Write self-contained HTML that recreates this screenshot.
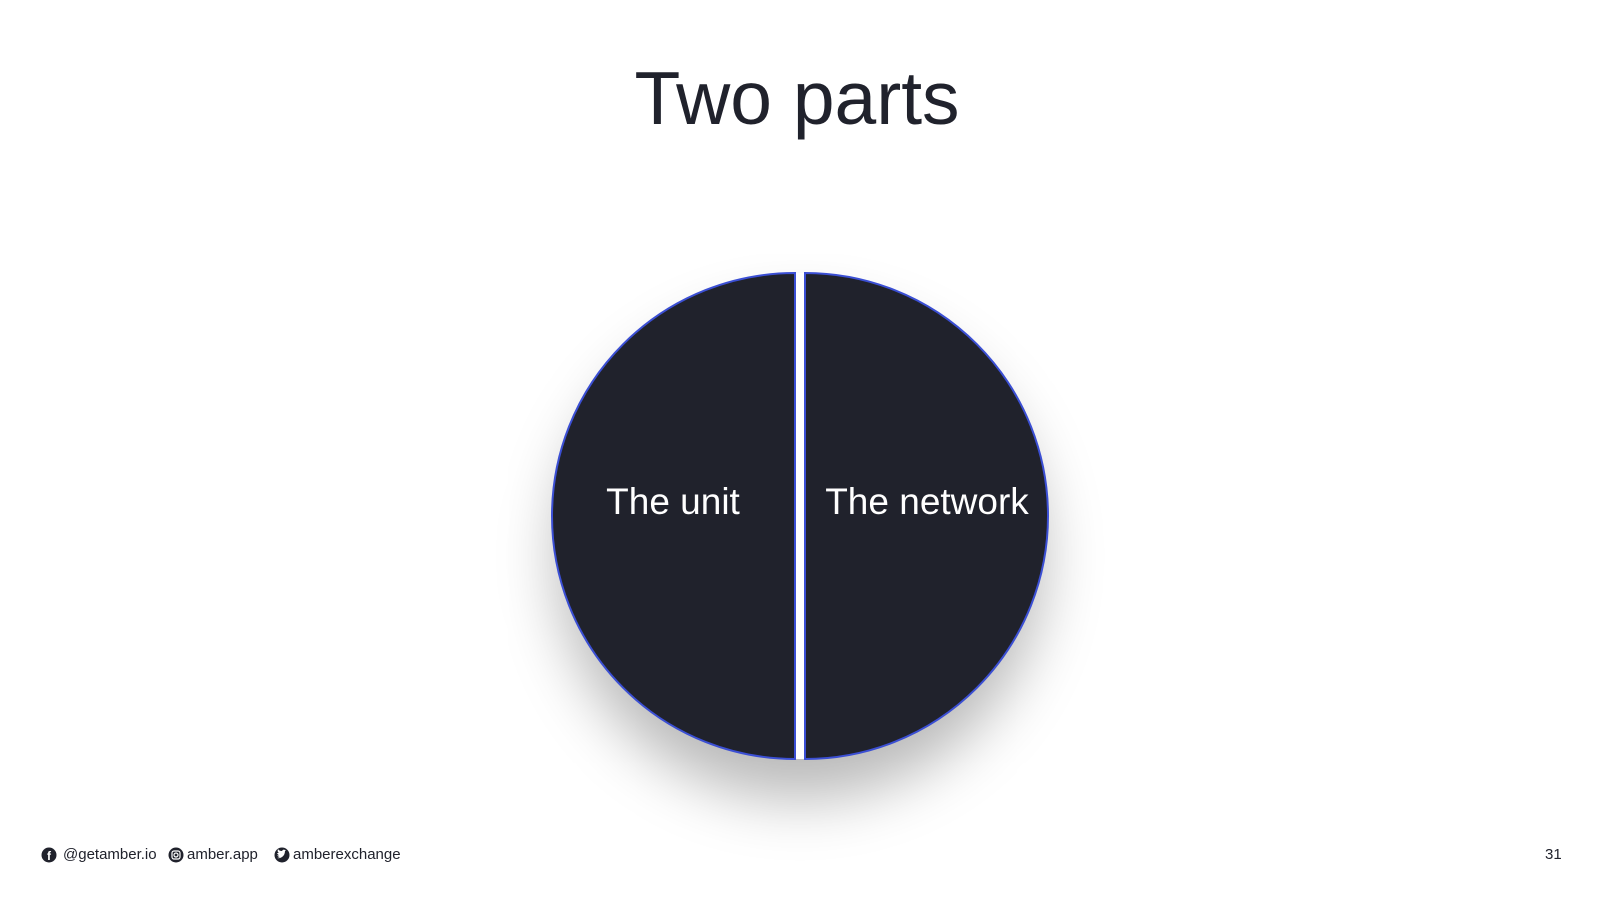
<!DOCTYPE html>
<html><head><meta charset="utf-8"><style>
body{margin:0;width:1600px;height:900px;background:#fff;position:relative;overflow:hidden;font-family:"Liberation Sans",Arial,sans-serif;color:#20222c}
.t{position:absolute;white-space:nowrap}
</style></head><body>
<div class="t" style="left:0;width:1594px;text-align:center;top:55px;font-size:75px;line-height:86px">Two parts</div>
<div style="position:absolute;left:557px;top:273px;width:486px;height:486px;border-radius:50%;box-shadow:0 40px 60px rgba(0,0,0,0.28)"></div>
<svg width="1600" height="900" style="position:absolute;left:0;top:0">
<path d="M795,273 A243,243 0 0 0 795,759 Z" fill="#20222c" stroke="#3b4fd4" stroke-width="2"/>
<path d="M805,273 A243,243 0 0 1 805,759 Z" fill="#20222c" stroke="#3b4fd4" stroke-width="2"/>
<text x="673" y="514" font-size="37" fill="#fff" text-anchor="middle" font-family="Liberation Sans, Arial, sans-serif">The unit</text>
<text x="927" y="514" font-size="37" fill="#fff" text-anchor="middle" font-family="Liberation Sans, Arial, sans-serif">The network</text>
<circle cx="49" cy="855" r="7.5" fill="#20222c"/>
<text x="49" y="860" font-size="12" font-weight="bold" fill="#fff" text-anchor="middle" font-family="Liberation Sans, Arial">f</text>
<circle cx="176" cy="855" r="7.5" fill="#20222c"/>
<rect x="172" y="851" width="8" height="8" rx="2" fill="none" stroke="#fff" stroke-width="1.2"/>
<circle cx="176" cy="855" r="2" fill="none" stroke="#fff" stroke-width="1.2"/>
<circle cx="282" cy="855" r="7.5" fill="#20222c"/>
<path d="M277,858 q4,1 7,-3 q1,-2 1,-4 l1,-1 l-1,0 q-2,-1 -3,1 q-3,0 -4,-2 q-1,3 1,4 q-2,0 -2,0 q1,2 2,2 q-1,1 -2,0 q1,2 3,2 q-2,1 -3,1z" fill="#fff"/>
</svg>
<div class="t" style="left:63px;top:846px;font-size:15px;line-height:18px">@getamber.io</div>
<div class="t" style="left:187px;top:846px;font-size:15px;line-height:18px">amber.app</div>
<div class="t" style="left:293px;top:846px;font-size:15px;line-height:18px">amberexchange</div>
<div class="t" style="left:1545px;top:846px;font-size:15px;line-height:18px">31</div>
</body></html>
